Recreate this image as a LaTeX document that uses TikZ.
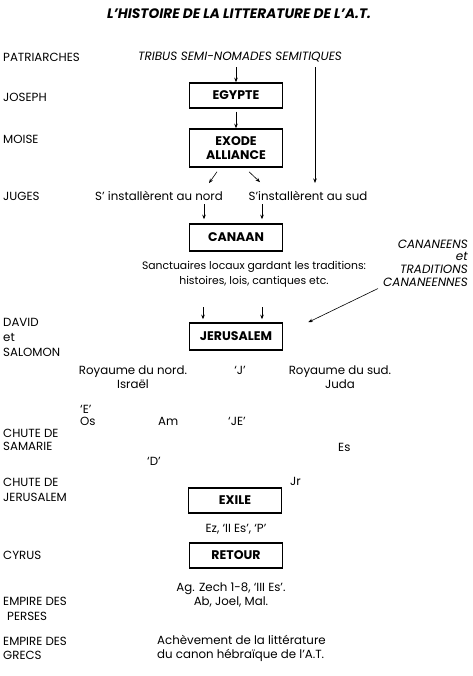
\documentclass[tikz,border=0pt]{standalone}
\usepackage{fontspec}
\setmainfont{Poppins}
\usetikzlibrary{arrows.meta}

\begin{document}
\begin{tikzpicture}[x=1pt,y=-1pt,
    lbl/.style={anchor=west,align=left,inner sep=0pt,font=\fontsize{11.8}{14}\selectfont},
    txt/.style={inner sep=0pt,align=center,font=\fontsize{11.8}{14}\selectfont},
    itxt/.style={inner sep=0pt,font=\itshape\fontsize{12}{13}\selectfont},
    era/.style={draw,line width=1.5pt,minimum width=93pt,inner sep=0pt,align=center,font=\bfseries\fontsize{12.5}{14}\selectfont},
    arr/.style={-{Stealth[length=4.5pt,width=3.5pt]},line width=0.6pt}]
    \useasboundingbox (0,0) rectangle (472,676);
    \node (titre) at (239,14) {\bfseries\itshape\fontsize{13.7}{15}\selectfont L’HISTOIRE DE LA LITTERATURE DE L’A.T.};
    % periodes, colonne de gauche
    \node[lbl] (patriarches) at (3,57) {PATRIARCHES};
    \node[lbl] (joseph) at (3,97) {JOSEPH};
    \node[lbl] (moise) at (3,139) {MOISE};
    \node[lbl] (juges) at (3,196) {JUGES};
    \node[lbl,font=\fontsize{11.8}{15}\selectfont] (david) at (3,337) {DAVID\\et\\SALOMON};
    \node[lbl,font=\fontsize{11.8}{13}\selectfont] (samarie) at (3,439.5) {CHUTE DE\\SAMARIE};
    \node[lbl,font=\fontsize{11.8}{15}\selectfont] (chute) at (3,489.5) {CHUTE DE\\JERUSALEM};
    \node[lbl] (cyrus) at (3,555) {CYRUS};
    \node[lbl,font=\fontsize{11.8}{15}\selectfont] (perses) at (3,608.5) {EMPIRE DES\\\hspace*{4pt}PERSES};
    \node[lbl] (grecs) at (3,648) {EMPIRE DES\\GRECS};
    % histoire
    \node[itxt] (tribus) at (240,57) {TRIBUS SEMI-NOMADES SEMITIQUES};
    \node[era,minimum height=25pt] (egypte) at (236,95.5) {EGYPTE};
    \node[era,minimum height=38pt] (exode) at (236,148) {EXODE\\ALLIANCE};
    \node[txt] (nord) at (159,196) {S’ installèrent au nord};
    \node[txt] (sud) at (308,196) {S’installèrent au sud};
    \coordinate (finsud) at (315,183);
    \node[era,minimum height=27pt] (canaan) at (236,237.5) {CANAAN};
    \node[txt,font=\fontsize{10.8}{15}\selectfont] (sanctuaires) at (254,274.5) {Sanctuaires locaux gardant les traditions:\\histoires, lois, cantiques etc.};
    \node[itxt,anchor=east,align=right,font=\itshape\fontsize{12}{12.7}\selectfont] (cananeens) at (468,263) {CANANEENS\\et\\TRADITIONS\\CANANEENNES};
    \node[era,minimum height=27pt] (jerusalem) at (236,336.5) {JERUSALEM};
    \node[txt] (israel) at (133,377) {Royaume du nord.\\Israël};
    \node[txt] (j) at (240,370) {‘J’};
    \node[txt] (juda) at (340,377) {Royaume du sud.\\Juda};
    \node[lbl] (e) at (80,409) {‘E’};
    \node[lbl] (os) at (80,421) {Os};
    \node[lbl] (am) at (158,421) {Am};
    \node[lbl] (je) at (228,421) {‘JE’};
    \node[lbl] (es) at (338,447) {Es};
    \node[lbl] (d) at (147,461) {‘D’};
    \node[lbl] (jr) at (290,481) {Jr};
    \node[era,minimum height=25pt] (exile) at (235,500.5) {EXILE};
    \node[txt] (ez) at (236,529) {Ez, ‘II Es’, ‘P’};
    \node[era,minimum height=25pt] (retour) at (236,555.5) {RETOUR};
    \node[txt] (ag) at (231,594.5) {Ag. Zech 1-8, ‘III Es’.\\Ab, Joel, Mal.};
    \node[lbl] (canon) at (157,648) {Achèvement de la littérature\\du canon hébraïque de l’A.T.};
    % fleches
    \draw[arr,shorten <=5pt] (tribus.south -| egypte) -- (egypte);
    \draw[arr,shorten <=3pt] (egypte) -- (exode);
    \draw[arr,shorten <=5pt] (tribus.south -| finsud) -- (finsud);
    \draw[arr] ([shift={(-19,4)}]exode.south) -- ([shift={(50,-8)}]nord.north);
    \draw[arr] ([shift={(13,4)}]exode.south) -- ([shift={(-48,-9)}]sud.north);
    \draw[arr] ([shift={(-32,-19)}]canaan.north) -- ([shift={(-32,-4)}]canaan.north);
    \draw[arr] ([shift={(26,-19)}]canaan.north) -- ([shift={(26,-4)}]canaan.north);
    \draw[arr] ([shift={(-33,-15)}]jerusalem.north) -- ([shift={(-33,-3)}]jerusalem.north);
    \draw[arr] ([shift={(26,-15)}]jerusalem.north) -- ([shift={(26,-3)}]jerusalem.north);
    \draw[arr] ([shift={(-5,2)}]cananeens.south west) -- ([shift={(25,0)}]jerusalem.north east);
\end{tikzpicture}
\end{document}
